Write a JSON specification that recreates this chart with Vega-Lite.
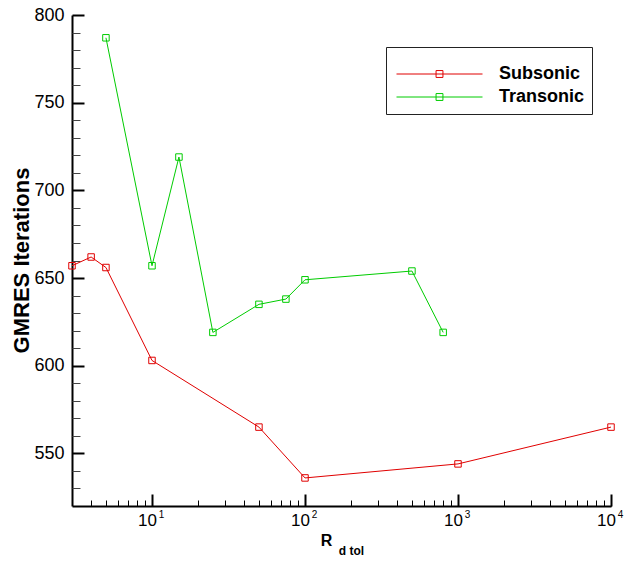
{
  "$schema": "https://vega.github.io/schema/vega-lite/v6.json",
  "width": 539,
  "height": 491,
  "autosize": {"type": "none"},
  "padding": {"left": 72, "top": 15, "right": 15, "bottom": 56},
  "background": "white",
  "config": {
    "view": {"stroke": null},
    "axis": {"grid": false, "labelFont": "Liberation Sans", "titleFont": "Liberation Sans", "labelColor": "black", "titleColor": "black", "domainColor": "black", "tickColor": "black"},
    "legend": {
      "orient": "none",
      "legendX": 314,
      "legendY": 32,
      "strokeColor": "#222",
      "fillColor": "white",
      "padding": 7,
      "titleFontSize": 10,
      "titlePadding": 0,
      "labelFont": "Liberation Sans",
      "labelFontSize": 18,
      "labelFontWeight": "bold",
      "labelColor": "black",
      "labelOffset": 16,
      "rowPadding": 3,
      "clipHeight": 20,
      "symbolOffset": 3,
      "symbolType": "M-1,0H1M-0.08,-0.08H0.08V0.08H-0.08Z",
      "symbolSize": 7396,
      "symbolStrokeWidth": 1,
      "symbolFillColor": "transparent"
    }
  },
  "data": {
    "values": [
      {"series": "Subsonic", "R": 3, "iters": 657},
      {"series": "Subsonic", "R": 4, "iters": 662},
      {"series": "Subsonic", "R": 5, "iters": 656},
      {"series": "Subsonic", "R": 10, "iters": 603},
      {"series": "Subsonic", "R": 50, "iters": 565},
      {"series": "Subsonic", "R": 100, "iters": 536},
      {"series": "Subsonic", "R": 1000, "iters": 544},
      {"series": "Subsonic", "R": 10000, "iters": 565},
      {"series": "Transonic", "R": 5, "iters": 787},
      {"series": "Transonic", "R": 10, "iters": 657},
      {"series": "Transonic", "R": 15, "iters": 719},
      {"series": "Transonic", "R": 25, "iters": 619},
      {"series": "Transonic", "R": 50, "iters": 635},
      {"series": "Transonic", "R": 75, "iters": 638},
      {"series": "Transonic", "R": 100, "iters": 649},
      {"series": "Transonic", "R": 500, "iters": 654},
      {"series": "Transonic", "R": 800, "iters": 619}
    ]
  },
  "layer": [
    {
      "mark": {"type": "line", "strokeWidth": 1, "clip": true},
      "encoding": {
        "x": {
          "field": "R", "type": "quantitative",
          "scale": {"type": "log", "domain": [3, 10000], "nice": false},
          "axis": {
            "orient": "bottom",
            "values": [10, 100, 1000, 10000],
            "domainWidth": 2,
            "tickSize": -12,
            "tickWidth": 2,
            "labelExpr": "'10'",
            "labelFontSize": 17,
            "labelPadding": 18,
            "labelOffset": -5,
            "labelFlush": false,
            "labelOverlap": false,
            "title": "R",
            "titleFontSize": 16,
            "titleFontWeight": "bold",
            "titleX": 254,
            "titleY": 39,
            "titleAlign": "center",
            "titleBaseline": "alphabetic"
          }
        },
        "y": {
          "field": "iters", "type": "quantitative",
          "scale": {"domain": [520, 800], "nice": false, "zero": false},
          "axis": {
            "orient": "left",
            "values": [550, 600, 650, 700, 750, 800],
            "domainWidth": 2,
            "tickSize": -12,
            "tickWidth": 2,
            "labelFontSize": 18,
            "labelPadding": 20,
            "labelFlush": false,
            "labelOverlap": false,
            "title": "GMRES Iterations",
            "titleFontSize": 22,
            "titleFontWeight": "bold",
            "titleAngle": -90,
            "titleX": -51,
            "titleY": 245,
            "titleAlign": "center",
            "titleBaseline": "middle"
          }
        },
        "color": {
          "field": "series", "type": "nominal",
          "scale": {"domain": ["Subsonic", "Transonic"], "range": ["#e00000", "#00cc00"]},
          "legend": {"title": " "}
        }
      }
    },
    {
      "mark": {"type": "point", "shape": "square", "filled": false, "size": 42, "strokeWidth": 1, "opacity": 1},
      "encoding": {
        "x": {
          "field": "R", "type": "quantitative",
          "axis": {
            "orient": "bottom",
            "values": [4, 5, 6, 7, 8, 9, 10, 20, 30, 40, 50, 60, 70, 80, 90, 100, 200, 300, 400, 500, 600, 700, 800, 900, 1000, 2000, 3000, 4000, 5000, 6000, 7000, 8000, 9000, 10000],
            "domain": false,
            "tickSize": -6,
            "tickWidth": 1,
            "labelExpr": "indexof([10, 100, 1000, 10000], datum.value) >= 0 ? '' + round(log(datum.value) / LN10) : ''",
            "labelFontSize": 10,
            "labelPadding": 9,
            "labelOffset": 9,
            "labelFlush": false,
            "labelOverlap": false,
            "title": "d tol",
            "titleFontSize": 12,
            "titleFontWeight": "bold",
            "titleX": 279,
            "titleY": 48,
            "titleAlign": "center",
            "titleBaseline": "alphabetic"
          }
        },
        "y": {
          "field": "iters", "type": "quantitative",
          "axis": {
            "orient": "left",
            "values": [530, 540, 560, 570, 580, 590, 610, 620, 630, 640, 660, 670, 680, 690, 710, 720, 730, 740, 760, 770, 780, 790],
            "domain": false,
            "tickSize": -8,
            "tickWidth": 1,
            "tickColor": "#444",
            "labels": false,
            "title": null
          }
        },
        "color": {"field": "series", "type": "nominal", "legend": {"title": " "}}
      }
    }
  ],
  "resolve": {"axis": {"x": "independent", "y": "independent"}}
}
